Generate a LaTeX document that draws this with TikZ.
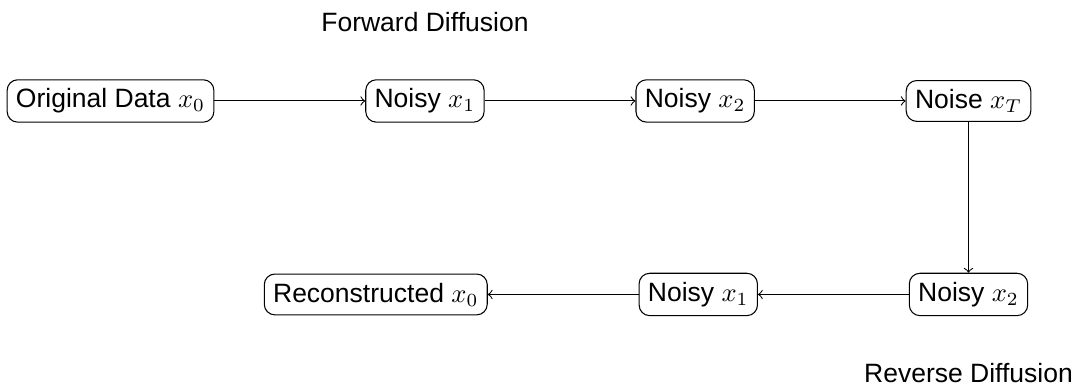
\documentclass[tikz,border=0pt]{standalone}
\usepackage{fontspec}
\setmainfont{Liberation Sans}
\usetikzlibrary{shapes, arrows, positioning}

\begin{document}
\begin{tikzpicture}[
        ->,
        stage/.style = {
            draw,
            rectangle,
            rounded corners,
            text centered
        },
        node distance=2cm
    ]
        \useasboundingbox (-41.7pt,38.1pt) rectangle (364.3pt,-108.3pt);

        \node [stage]  (orig)                        {Original Data $x_0$};
        \node [stage]  (noisy1)  [right=of orig]     {Noisy $x_1$};
        \node [stage]  (noisy2)  [right=of noisy1]   {Noisy $x_2$};
        \node [stage]  (noise)   [right=of noisy2]   {Noise $x_T$};
        \node [stage]  (rnoisy2) [below=of noise]    {Noisy $x_2$};
        \node [stage]  (rnoisy1) [left=of rnoisy2]   {Noisy $x_1$};
        \node [stage]  (recon)   [left=of rnoisy1]   {Reconstructed $x_0$};

        \node (fwd) [above=0.5cm of noisy1]  {Forward Diffusion};
        \node (rev) [below=0.5cm of rnoisy2] {Reverse Diffusion};

        \path
            (orig)      edge    (noisy1)
            (noisy1)    edge    (noisy2)
            (noisy2)    edge    (noise)
            (noise)     edge    (rnoisy2)
            (rnoisy2)   edge    (rnoisy1)
            (rnoisy1)   edge    (recon)
        ;
\end{tikzpicture}
\end{document}
